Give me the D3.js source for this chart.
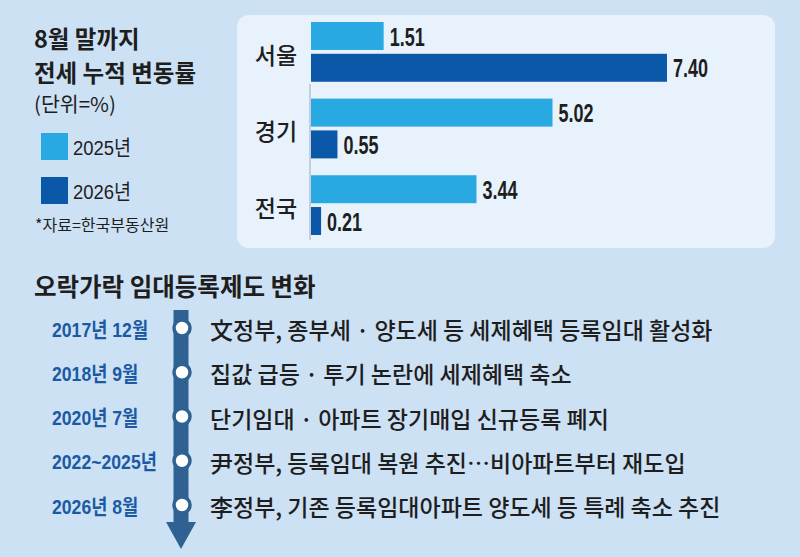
<!DOCTYPE html>
<html>
<head>
<meta charset="utf-8">
<script src="https://cdn.jsdelivr.net/npm/d3@7"></script>
<style>
  html, body { margin: 0; padding: 0; background: #cde1f5; }
  svg { display: block; }
  .kr { font-family: 'Noto Sans CJK KR', 'Noto Sans', sans-serif; fill: #1e1e1e; }
  .num { font-family: 'Liberation Sans', 'Noto Sans CJK KR', sans-serif; font-weight: 700; fill: #1e1e1e; }
</style>
</head>
<body>
<script>
// Data
const regions = ["서울", "경기", "전국"];
const years = ["2025년", "2026년"];
const values2025 = [1.51, 5.02, 3.44];
const values2026 = [7.40, 0.55, 0.21];

const titleLines = ["8월 말까지", "전세 누적 변동률"];
const unitLabel = "(단위=%)";

const timelineDates = ["2017년 12월", "2018년 9월", "2020년 7월", "2022~2025년", "2026년 8월"];
const timelineEvents = [
  "文정부, 종부세 · 양도세 등 세제혜택 등록임대 활성화",
  "집값 급등 · 투기 논란에 세제혜택 축소",
  "단기임대 · 아파트 장기매입 신규등록 폐지",
  "尹정부, 등록임대 복원 추진…비아파트부터 재도입",
  "李정부, 기존 등록임대아파트 양도세 등 특례 축소 추진"
];

const width = 800, height = 557;
const colors = { "2025년": "#29a9e1", "2026년": "#0b57a8" };

const svg = d3.select("body")
  .append("svg")
  .attr("width", width)
  .attr("height", height)
  .attr("viewBox", `0 0 ${width} ${height}`);

svg.append("rect")
  .attr("width", width)
  .attr("height", height)
  .attr("fill", "#cde1f5");

// Panel

svg.append("rect")
  .attr("x", 237)
  .attr("y", 15)
  .attr("width", 538)
  .attr("height", 233)
  .attr("rx", 12)
  .attr("fill", "#e7f2fc");

// Scales

const x = d3.scaleLinear().domain([0, 7.4]).range([311, 667]);
const y = d3.scaleBand().domain(regions).range([22, 235]).paddingInner(0.22);
const ySub = d3.scaleBand().domain(years).range([0, y.bandwidth()]).paddingInner(0.12);

const rows = regions.map((region, i) => ({
  region,
  bars: [
    { year: years[0], value: values2025[i] },
    { year: years[1], value: values2026[i] }
  ]
}));

// faint axis shadow
svg.append("line")
  .attr("x1", x(0) - 1).attr("x2", x(0) - 1)
  .attr("y1", 84).attr("y2", 240)
  .attr("stroke", "#9aa6b2")
  .attr("stroke-width", 2)
  .attr("opacity", 0.45);

const group = svg.selectAll(".group")
  .data(rows)
  .enter()
  .append("g")
  .attr("transform", (d) => `translate(0, ${y(d.region)})`);

group.append("text")
  .attr("class", "kr")
  .attr("x", 276)
  .attr("y", y.bandwidth() / 2 + 2)
  .attr("text-anchor", "middle")
  .attr("dominant-baseline", "central")
  .attr("font-size", 23)
  .attr("font-weight", 500)
  .text((d) => d.region);

group.selectAll("rect")
  .data((d) => d.bars)
  .enter()
  .append("rect")
  .attr("x", x(0))
  .attr("y", (d) => ySub(d.year))
  .attr("width", (d) => x(d.value) - x(0))
  .attr("height", ySub.bandwidth())
  .attr("fill", (d) => colors[d.year]);

group.selectAll(".val")
  .data((d) => d.bars)
  .enter()
  .append("text")
  .attr("class", "num")
  .attr("transform", (d) =>
    `translate(${x(d.value) + 6}, ${ySub(d.year) + ySub.bandwidth() / 2 + 1}) scale(0.72, 1)`)
  .attr("dominant-baseline", "central")
  .attr("font-size", 25)
  .text((d) => d3.format(".2f")(d.value));

// Left title and legend

const title = svg.append("g").attr("class", "kr");

title.selectAll(".titleLine")
  .data(titleLines)
  .enter()
  .append("text")
  .attr("x", 34)
  .attr("y", (_, i) => 48 + i * 34)
  .attr("font-size", 23.5)
  .attr("font-weight", 700)
  .text((d) => d);

title.append("text")
  .attr("x", 34)
  .attr("y", 112)
  .attr("font-size", 20.5)
  .attr("font-weight", 400)
  .text(unitLabel);

const legendY = d3.scalePoint().domain(years).range([146, 190]);

const legend = svg.selectAll(".legend")
  .data(years)
  .enter()
  .append("g")
  .attr("transform", (d) => `translate(41, ${legendY(d)})`);

legend.append("rect")
  .attr("x", 0).attr("y", -13)
  .attr("width", 27).attr("height", 27)
  .attr("fill", (d) => colors[d]);

legend.append("text")
  .attr("transform", "translate(32, 2) scale(0.88, 1)")
  .attr("dominant-baseline", "central")
  .attr("font-size", 21)
  .style("font-family", "'Liberation Sans', 'Noto Sans CJK KR', sans-serif")
  .style("fill", "#1e1e1e")
  .text((d) => d);

svg.append("text")
  .attr("class", "kr")
  .attr("x", 35).attr("y", 231)
  .attr("font-size", 16)
  .text("*자료=한국부동산원");

// Timeline

svg.append("text")
  .attr("class", "kr")
  .attr("x", 34).attr("y", 296)
  .attr("font-size", 24.5).attr("font-weight", 700)
  .text("오락가락 임대등록제도 변화");

const lineColor = "#2f6193";
const axisX = 181;
const ty = d3.scalePoint().domain(timelineDates).range([328, 505]);

svg.append("rect")
  .attr("x", axisX - 7.5).attr("y", 310)
  .attr("width", 15).attr("height", 215)
  .attr("fill", lineColor);

svg.append("path")
  .attr("d", `M${axisX - 15},522 L${axisX + 15},522 L${axisX},549 Z`)
  .attr("fill", lineColor);

const item = svg.selectAll(".item")
  .data(timelineDates.map((date, i) => ({ date, event: timelineEvents[i] })))
  .enter()
  .append("g")
  .attr("transform", (d) => `translate(0, ${ty(d.date)})`);

item.append("circle")
  .attr("cx", axisX + 1).attr("cy", 0).attr("r", 8)
  .attr("fill", "#ffffff")
  .attr("stroke", lineColor)
  .attr("stroke-width", 3.5);

item.append("text")
  .attr("class", "num")
  .attr("transform", "translate(52, 1) scale(0.84, 1)")
  .attr("dominant-baseline", "central")
  .attr("font-size", 21)
  .style("fill", "#1b5aa3")
  .text((d) => d.date);

item.append("text")
  .attr("class", "kr")
  .attr("x", 210).attr("y", 1)
  .attr("dominant-baseline", "central")
  .attr("font-size", 23)
  .attr("font-weight", 500)
  .text((d) => d.event);
</script>
</body>
</html>
